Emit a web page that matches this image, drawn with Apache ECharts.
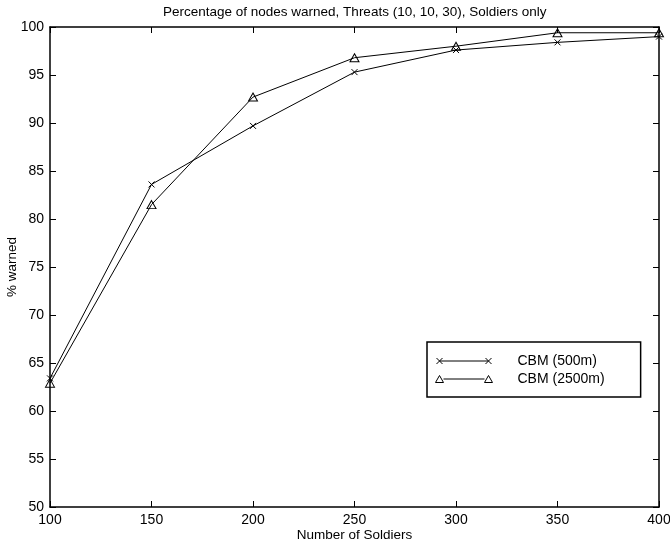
<!DOCTYPE html>
<html>
<head>
<meta charset="utf-8">
<title>Percentage of nodes warned</title>
<script src="https://cdn.jsdelivr.net/npm/echarts@6/dist/echarts.min.js"></script>
<style>
  html, body { margin: 0; padding: 0; background: #fff; }
  #chart { width: 670px; height: 547px; }
</style>
</head>
<body>
<div id="chart"></div>
<script>
// values
var soldiers = [100, 150, 200, 250, 300, 350, 400];
var cbm500 = [63.4, 83.6, 89.7, 95.3, 97.6, 98.4, 99.0];
var cbm2500 = [62.9, 81.5, 92.7, 96.8, 98.0, 99.4, 99.4];
var seriesNames = ['CBM (500m)', 'CBM (2500m)'];

var FONT = 'Liberation Sans, Arial, Helvetica, sans-serif';
var myChart = echarts.init(document.getElementById('chart'));

function pairs(xs, ys) {
    var out = [];
    for (var i = 0; i < xs.length; i++) {
        out.push([xs[i], ys[i]]);
    }
    return out;
}

// legend icons: line with a marker at each end (MATLAB style)
var crossIcon = 'path://M0,0M1,1L7,7M7,1L1,7M4,4L53,4M50,1L56,7M56,1L50,7M57,8';
var triIcon = 'path://M0,0M0,7.5L4,0.5L8,7.5ZM8,4L49,4M49,7.5L53,0.5L57,7.5ZM57,8';

var frameAxis = {
    axisLine: { show: true, lineStyle: { color: '#000', width: 1.5 } },
    axisTick: { show: true, inside: true, length: 6, lineStyle: { color: '#000', width: 1 } },
    splitLine: { show: false }
};

var option = {
    animation: false,
    backgroundColor: '#fff',
    title: {
        text: 'Percentage of nodes warned, Threats (10, 10, 30), Soldiers only',
        left: 163,
        top: 5,
        padding: 0,
        textStyle: { fontFamily: FONT, fontSize: 13.5, fontWeight: 'normal', color: '#000' }
    },
    grid: { left: 50, right: 11, top: 27, bottom: 40, containLabel: false, outerBoundsMode: 'none' },
    legend: {
        orient: 'vertical',
        left: 427,
        top: 342,
        padding: [12, 36, 11, 6],
        itemWidth: 57,
        itemHeight: 8,
        itemGap: 4,
        borderColor: '#000',
        borderWidth: 1.5,
        backgroundColor: '#fff',
        selectedMode: false,
        itemStyle: { color: 'none', borderColor: '#000', borderWidth: 1 },
        textStyle: { fontFamily: FONT, fontSize: 14, lineHeight: 14, color: '#000', padding: [0, 0, 0, 20] },
        data: [
            { name: seriesNames[0], icon: crossIcon },
            { name: seriesNames[1], icon: triIcon }
        ]
    },
    xAxis: [
        Object.assign({
            type: 'value',
            min: 100,
            max: 400,
            interval: 50,
            name: 'Number of Soldiers',
            nameLocation: 'middle',
            nameGap: 21,
            nameMoveOverlap: false,
            nameTextStyle: { fontFamily: FONT, fontSize: 13.5, color: '#000' },
            axisLabel: { fontFamily: FONT, fontSize: 14, color: '#000', margin: 6 }
        }, frameAxis),
        Object.assign({
            type: 'value',
            position: 'top',
            min: 100,
            max: 400,
            interval: 50,
            axisLabel: { show: false }
        }, frameAxis)
    ],
    yAxis: [
        Object.assign({
            type: 'value',
            min: 50,
            max: 100,
            interval: 5,
            name: '% warned',
            nameLocation: 'middle',
            nameGap: 31,
            nameMoveOverlap: false,
            nameTextStyle: { fontFamily: FONT, fontSize: 13.5, color: '#000' },
            axisLabel: { fontFamily: FONT, fontSize: 14, color: '#000', margin: 6 }
        }, frameAxis),
        Object.assign({
            type: 'value',
            position: 'right',
            min: 50,
            max: 100,
            interval: 5,
            axisLabel: { show: false }
        }, frameAxis)
    ],
    series: [
        {
            name: seriesNames[0],
            type: 'line',
            data: pairs(soldiers, cbm500),
            symbol: 'path://M0,0L10,10M10,0L0,10',
            symbolSize: 6,
            showAllSymbol: true,
            clip: false,
            lineStyle: { color: '#000', width: 1 },
            itemStyle: { color: 'none', borderColor: '#000', borderWidth: 1 },
            z: 3
        },
        {
            name: seriesNames[1],
            type: 'line',
            data: pairs(soldiers, cbm2500),
            symbol: 'triangle',
            symbolSize: [9, 8],
            showAllSymbol: true,
            clip: false,
            lineStyle: { color: '#000', width: 1 },
            itemStyle: { color: 'none', borderColor: '#000', borderWidth: 1 },
            z: 3
        }
    ]
};

myChart.setOption(option);
</script>
</body>
</html>
